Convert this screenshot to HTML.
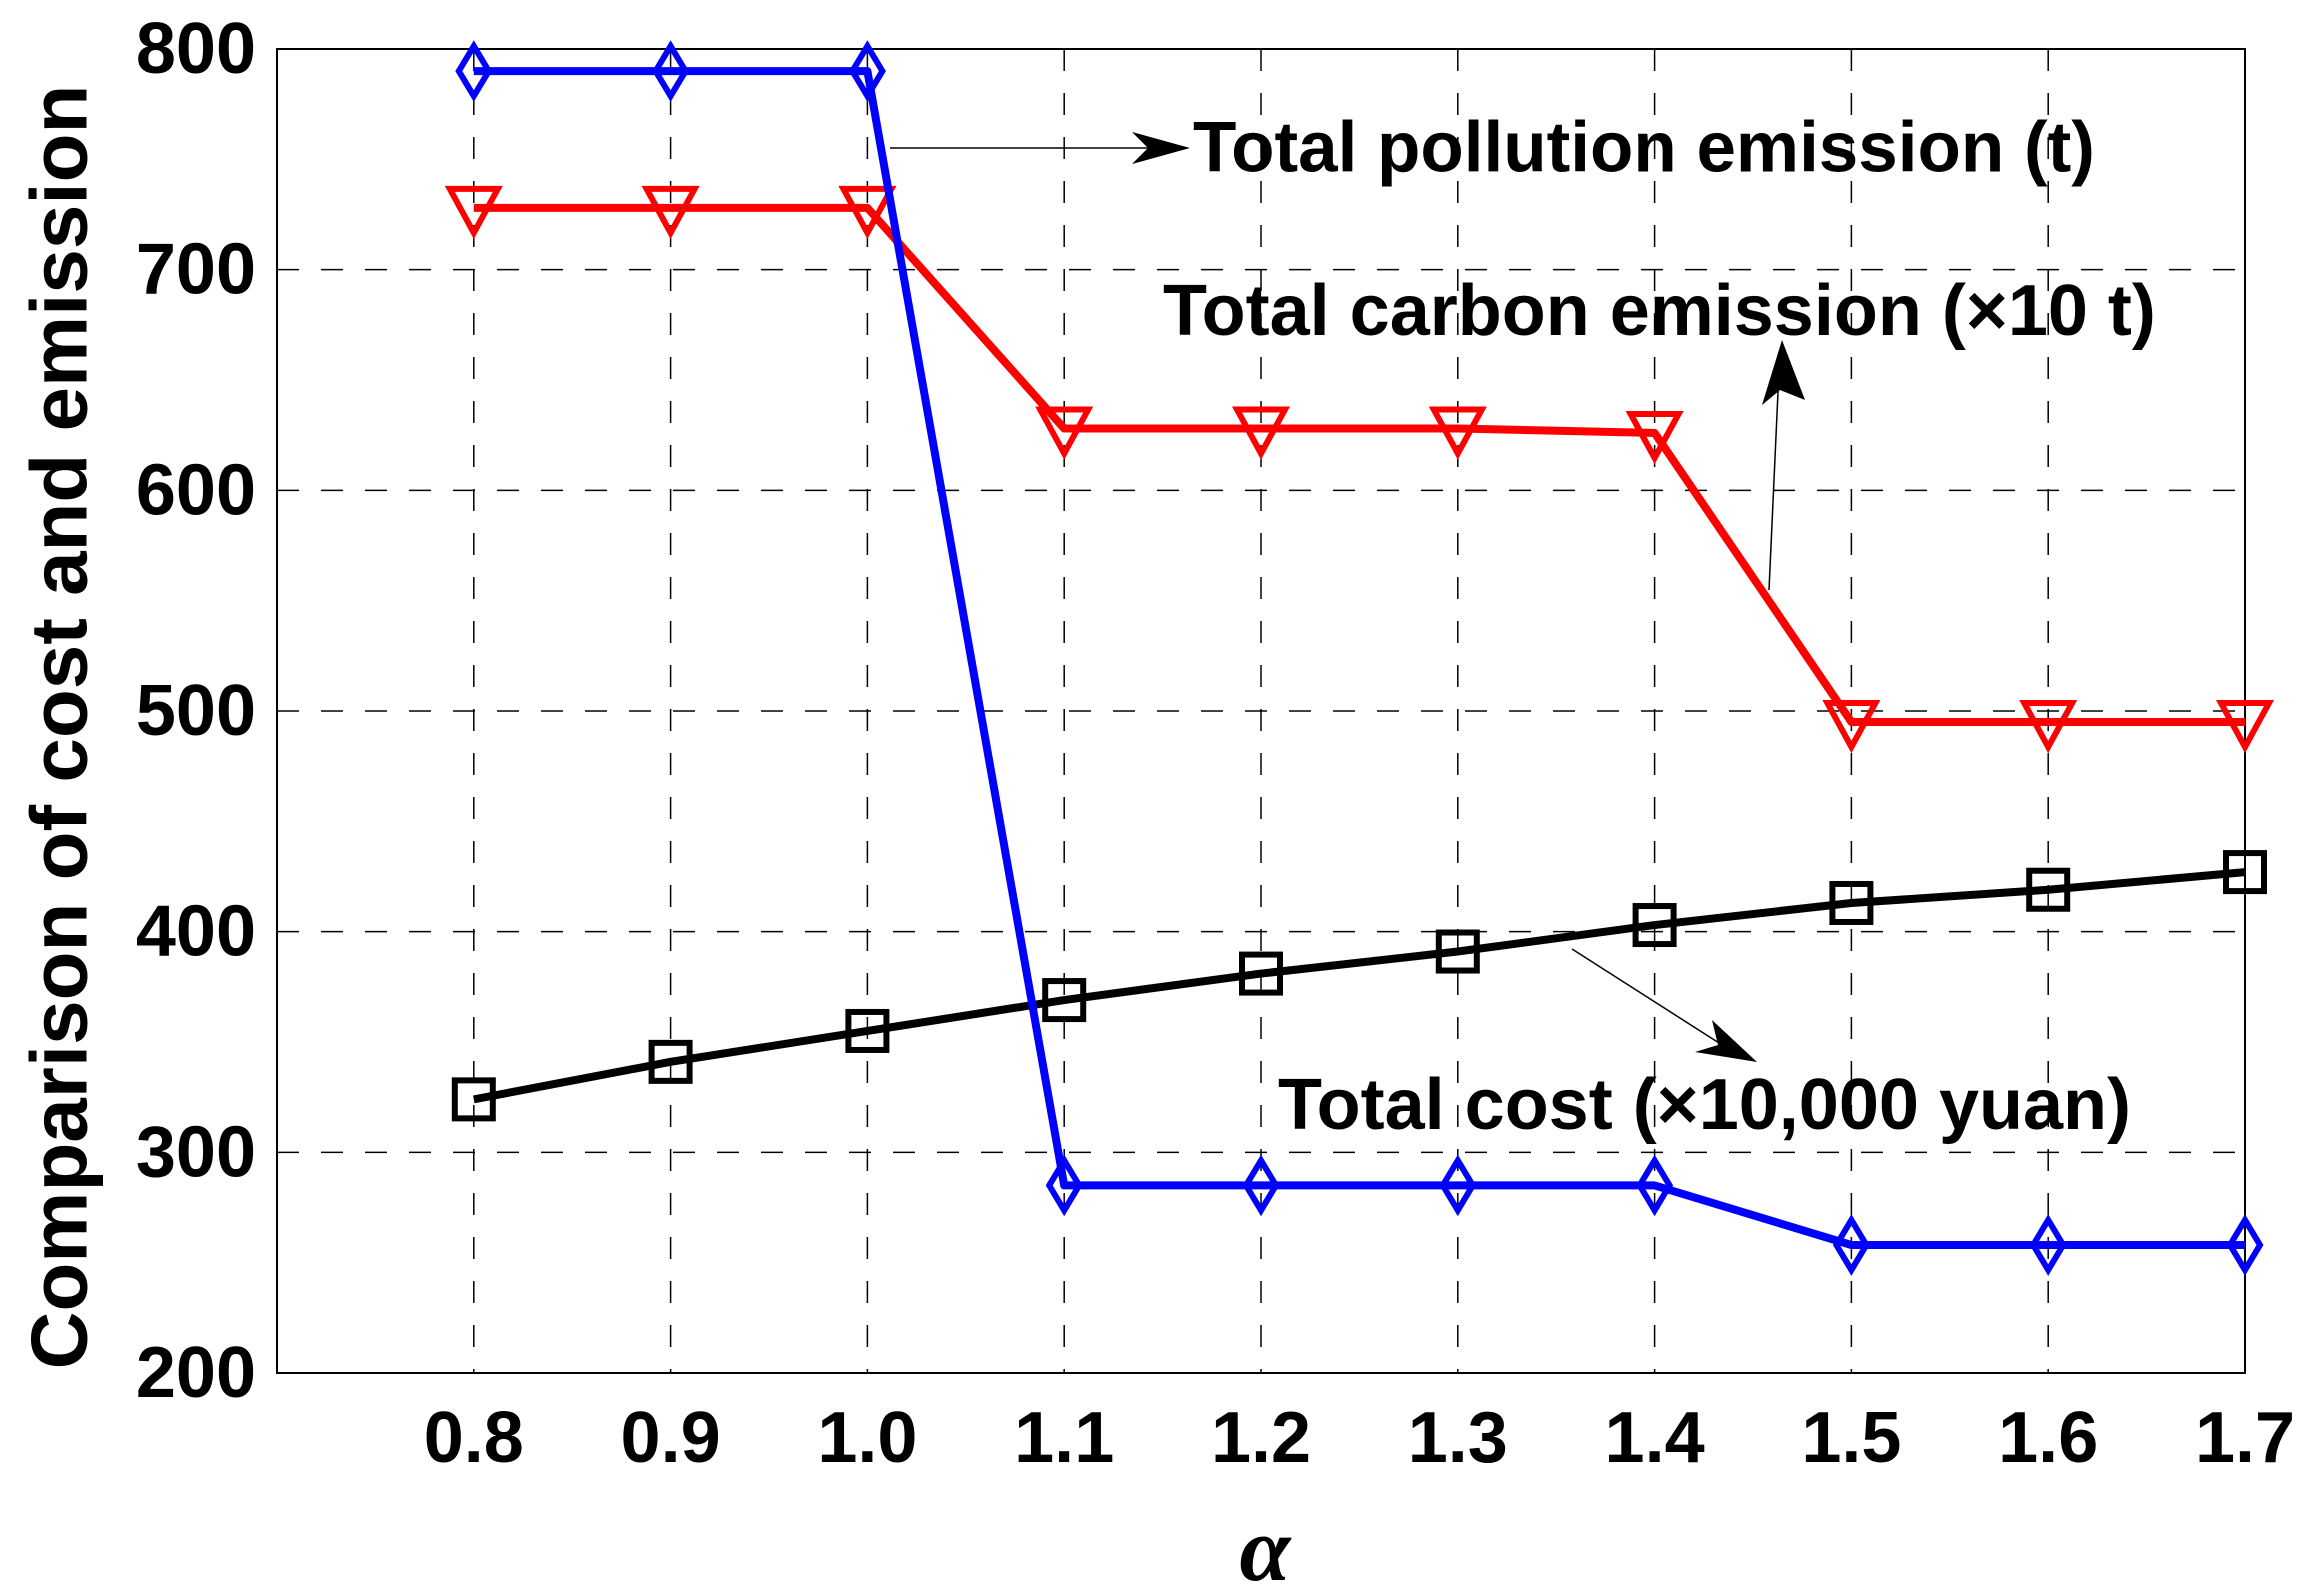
<!DOCTYPE html>
<html><head><meta charset="utf-8"><style>
html,body{margin:0;padding:0;background:#fff;}
svg{display:block;}
text{font-family:"Liberation Sans",Arial,sans-serif;font-weight:bold;fill:#000;}
</style></head><body>
<svg id="chart" width="2313" height="1593" viewBox="0 0 2313 1593" xmlns="http://www.w3.org/2000/svg">
<rect x="0" y="0" width="2313" height="1593" fill="#fff"/>
<g id="grid"></g>
<rect x="277" y="49" width="1968" height="1324" fill="none" stroke="#000" stroke-width="2"/>
<g id="ticks"></g>
<g id="series"></g>
<text x="59" y="727" font-size="80" text-anchor="middle" dominant-baseline="central" transform="rotate(-90 59 727)">Comparison of cost and emission</text>
<text x="1265" y="1549" font-size="92" text-anchor="middle" dominant-baseline="central" style="font-family:'Liberation Serif',serif;font-style:italic">α</text>
<g>
<line x1="890" y1="148" x2="1150" y2="148" stroke="#000" stroke-width="1.5"/>
<polygon points="1190,148 1132,132 1148,148 1132,164" fill="#000"/>
<text x="1193" y="148" font-size="71" dominant-baseline="central">Total pollution emission (t)</text>
<text x="1163" y="311" font-size="72" dominant-baseline="central">Total carbon emission (×10 t)</text>
<line x1="1769" y1="590" x2="1779" y2="370" stroke="#000" stroke-width="1.5"/>
<polygon points="1782,340 1762,405 1780,390 1805,400" fill="#000"/>
<text x="1278" y="1105" font-size="72" dominant-baseline="central">Total cost (×10,000 yuan)</text>
<line x1="1572" y1="949" x2="1730" y2="1050" stroke="#000" stroke-width="1.5"/>
<polygon points="1757,1062 1712,1020 1718,1045 1695,1052" fill="#000"/>
</g>
</svg>
<script>
const categories = [0.8,0.9,1.0,1.1,1.2,1.3,1.4,1.5,1.6,1.7];
const xTickLabels = ["0.8","0.9","1.0","1.1","1.2","1.3","1.4","1.5","1.6","1.7"];
const yTicks = [200,300,400,500,600,700,800];
const pollution = [790,790,790,285,285,285,285,258,258,258];
const carbon = [728,728,728,628,628,628,626,495,495,495];
const cost = [324,341,355,369,381,391,403,413,419,427];

const NS = "http://www.w3.org/2000/svg";
const L=277,R=2245,T=49,B=1373;
const xMin=0.7,xMax=1.7,yMin=200,yMax=800;
function sx(v){return L+(v-xMin)/(xMax-xMin)*(R-L);}
function sy(v){return B-(v-yMin)/(yMax-yMin)*(B-T);}
function mk(tag,attrs,parent){const e=document.createElementNS(NS,tag);for(const k in attrs)e.setAttribute(k,attrs[k]);parent.appendChild(e);return e;}

const grid=document.getElementById('grid');
const ticks=document.getElementById('ticks');
categories.forEach((c,i)=>{
  const g=mk('line',{x1:sx(c),x2:sx(c),y1:T,y2:B,stroke:'#000','stroke-width':1.5,'stroke-dasharray':'22,22'},grid);
  
  
  const t=mk('text',{x:sx(c),y:1438,'font-size':72,'text-anchor':'middle','dominant-baseline':'central'},ticks);
  t.textContent=xTickLabels[i];
  
  
});
yTicks.forEach(v=>{
  if(v>yMin&&v<yMax){
    const g=mk('line',{x1:L,x2:R,y1:sy(v),y2:sy(v),stroke:'#000','stroke-width':1.5,'stroke-dasharray':'22,22'},grid);
    
    
  }
  const t=mk('text',{x:256,y:sy(v),'font-size':72,'text-anchor':'end','dominant-baseline':'central'},ticks);
  t.textContent=String(v);
  
  
});

const series=document.getElementById('series');
function drawSeries(vals,color,shape,name){
  const g=mk('g',{},series);
  
  
  const pts=vals.map((v,i)=>sx(categories[i])+','+sy(v)).join(' ');
  const pl=mk('polyline',{points:pts,fill:'none',stroke:color,'stroke-width':8,'stroke-linejoin':'round'},g);
  
  
  vals.forEach((v,i)=>{
    const x=sx(categories[i]),y=sy(v);let m;
    if(shape==='diamond'){m=mk('polygon',{points:`${x},${y-25} ${x+15},${y} ${x},${y+25} ${x-15},${y}`,fill:'none',stroke:color,'stroke-width':6},g);}
    else if(shape==='tri'){m=mk('polygon',{points:`${x-24},${y-19} ${x+24},${y-19} ${x},${y+25}`,fill:'none',stroke:color,'stroke-width':6},g);}
    else{m=mk('rect',{x:x-19,y:y-19,width:38,height:38,fill:'none',stroke:color,'stroke-width':6},g);}
    
    
  });
}
drawSeries(cost,'#000','square','total-cost');
drawSeries(carbon,'#ff0000','tri','carbon-emission');
drawSeries(pollution,'#0000ff','diamond','pollution-emission');
</script>
</body></html>
